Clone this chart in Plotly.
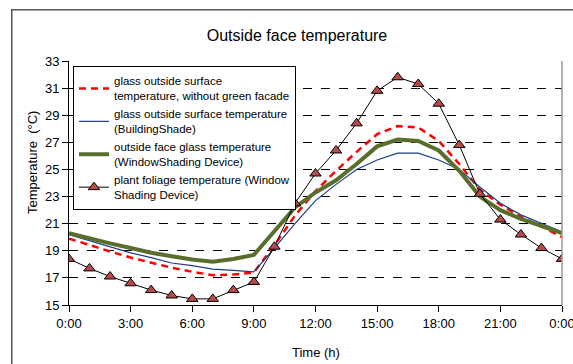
import plotly.graph_objects as go

hours = list(range(25))
tick_hours = [0, 3, 6, 9, 12, 15, 18, 21, 24]
tick_labels = ["0:00", "3:00", "6:00", "9:00", "12:00", "15:00", "18:00", "21:00", "0:00"]
y_ticks = [15, 17, 19, 21, 23, 25, 27, 29, 31, 33]

glass_no_green = [19.9, 19.4, 18.95, 18.5, 18.1, 17.75, 17.45, 17.2, 17.25, 17.4,
                  19.4, 21.6, 23.4, 24.9, 26.3, 27.6, 28.2, 28.1, 27.1, 25.4,
                  23.5, 22.4, 21.5, 20.8, 20.0]
glass_building_shade = [20.2, 19.75, 19.3, 18.85, 18.5, 18.1, 17.9, 17.65, 17.55, 17.45,
                        19.2, 21.0, 22.7, 23.9, 25.0, 25.7, 26.2, 26.2, 25.7, 25.0,
                        23.7, 22.5, 21.65, 21.0, 20.4]
glass_wsd = [20.3, 19.9, 19.55, 19.2, 18.85, 18.6, 18.35, 18.2, 18.4, 18.7,
             20.4, 22.2, 23.3, 24.2, 25.4, 26.7, 27.2, 27.1, 26.4, 24.9,
             23.0, 22.0, 21.35, 20.8, 20.3]
plant_foliage = [18.4, 17.7, 17.1, 16.6, 16.1, 15.7, 15.45, 15.45, 16.1, 16.7,
                 19.3, 22.5, 24.7, 26.4, 28.4, 30.8, 31.8, 31.3, 29.85, 26.8,
                 23.2, 21.3, 20.2, 19.2, 18.4]

names = [
    "glass outside surface<br>temperature, without green facade",
    "glass outside surface temperature<br>(BuildingShade)",
    "outside face glass temperature<br>(WindowShading Device)",
    "plant foliage temperature (Window<br>Shading Device)",
]

FONT = "Liberation Sans, Arial, sans-serif"

fig = go.Figure()
fig.add_trace(go.Scatter(x=hours, y=glass_no_green, mode="lines", name=names[0],
                         line=dict(color="#FF0000", width=2.5, dash="7px,5px")))
fig.add_trace(go.Scatter(x=hours, y=glass_building_shade, mode="lines", name=names[1],
                         line=dict(color="#1F3C88", width=1.2)))
fig.add_trace(go.Scatter(x=hours, y=glass_wsd, mode="lines", name=names[2],
                         line=dict(color="#5A6E2C", width=4)))
fig.add_trace(go.Scatter(x=hours, y=plant_foliage, mode="lines+markers", name=names[3],
                         line=dict(color="#000000", width=1),
                         marker=dict(symbol="triangle-up", size=10, color="#B84A48",
                                     line=dict(color="#000000", width=1))))

W, H = 573, 364
L, R, T, B = 69, 11, 61, 59
pw, ph = W - L - R, H - T - B

def px_x(p):
    return (p - L) / pw

def px_y(p):
    return (H - B - p) / ph

fig.update_layout(
    width=W, height=H,
    margin=dict(l=L, r=R, t=T, b=B, autoexpand=False),
    paper_bgcolor="white", plot_bgcolor="white",
    font=dict(family=FONT, size=13, color="black"),
    title=dict(text="Outside face temperature", x=297 / W, xanchor="center",
               y=1 - 35 / H, yanchor="middle", font=dict(size=16, family=FONT)),
    showlegend=True,
    legend=dict(x=px_x(73), y=px_y(66), xanchor="left", yanchor="top",
                bgcolor="white", bordercolor="black", borderwidth=1,
                font=dict(size=11.5, family=FONT), tracegroupgap=0),
    xaxis=dict(range=[0, 24], tickvals=tick_hours, ticktext=tick_labels,
               showline=True, linecolor="black", linewidth=1,
               ticks="outside", ticklen=6, tickcolor="black",
               showgrid=False, zeroline=False, automargin=False,
               ticklabeloverflow="allow"),
    yaxis=dict(range=[15, 33], tickvals=y_ticks,
               showline=True, linecolor="black", linewidth=1,
               ticks="outside", ticklen=6, tickcolor="black",
               showgrid=True, gridcolor="black", griddash="dash", gridwidth=1,
               zeroline=False, automargin=False),
    annotations=[
        dict(text="Time (h)", xref="paper", yref="paper", x=px_x(316), y=px_y(352),
             xanchor="center", yanchor="middle", showarrow=False, font=dict(size=13)),
        dict(text="Temperature  (°C)", xref="paper", yref="paper", x=px_x(32), y=px_y(163),
             xanchor="center", yanchor="middle", textangle=-90, showarrow=False,
             font=dict(size=13)),
        dict(text=" ", xref="paper", yref="paper", x=px_x(11), y=px_y(9),
             xanchor="left", yanchor="top", showarrow=False, width=640, height=420,
             borderpad=0, bordercolor="#555555", borderwidth=1.5),
    ],
    shapes=[
        dict(type="line", xref="paper", yref="paper", x0=1, x1=1, y0=0, y1=1,
             line=dict(color="#999999", width=1.5)),
    ],
)

fig.write_html("out.html",
               config={"displayModeBar": False},
               post_script="document.body.style.margin='0';document.body.style.padding='0';")
